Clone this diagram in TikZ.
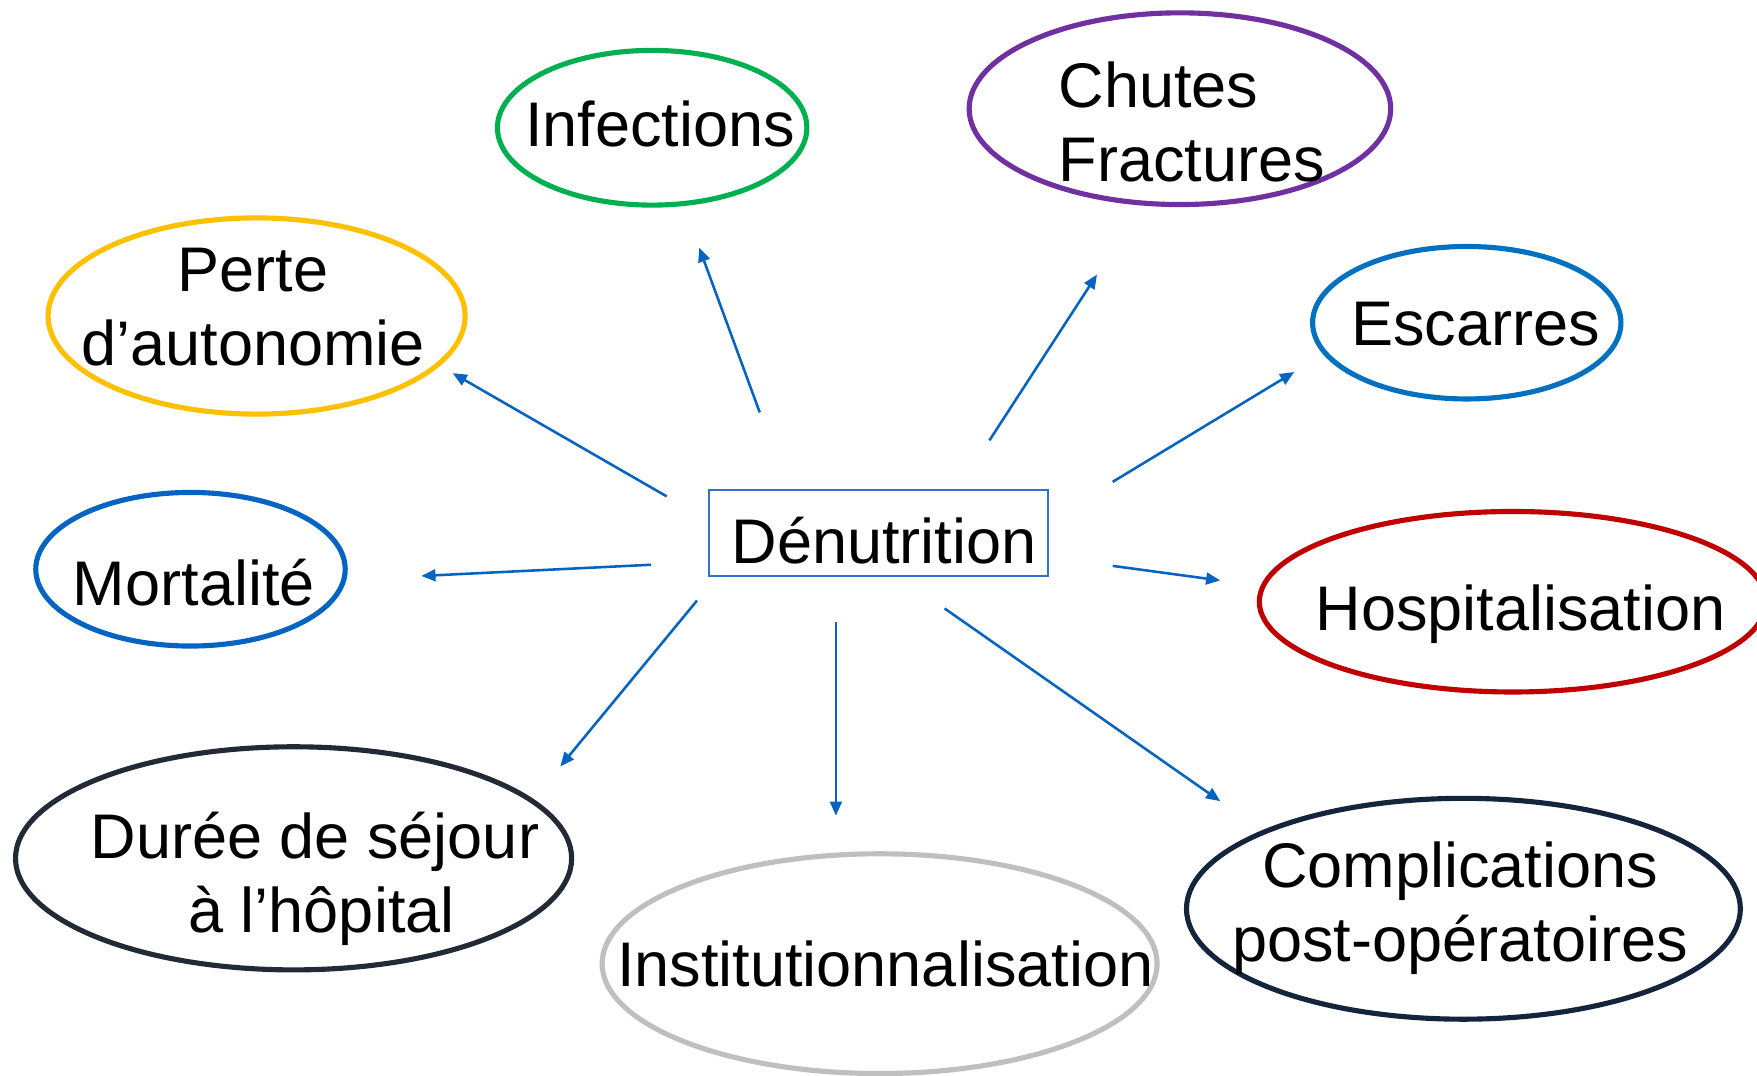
\documentclass[tikz,border=0pt]{standalone}
\usepackage{fontspec}
\setmainfont{Liberation Sans}
\usetikzlibrary{shapes.geometric,arrows.meta}
\definecolor{cgreen}{HTML}{00B050}
\definecolor{cpurple}{HTML}{7030A0}
\definecolor{cyellow}{HTML}{FFC000}
\definecolor{cblue}{HTML}{0070C0}
\definecolor{cblueb}{HTML}{0563C1}
\definecolor{cred}{HTML}{C00000}
\definecolor{cnavy}{HTML}{222A35}
\definecolor{cgray}{HTML}{BFBFBF}
\definecolor{cnavyb}{HTML}{14243C}
\definecolor{carrow}{HTML}{0563C1}
\definecolor{cbox}{HTML}{2F74C4}
\begin{document}
\begin{tikzpicture}[x=0.01cm,y=0.01cm,
  oval/.style={ellipse,draw=#1,line width=1.3pt,inner sep=0pt},
  lbl/.style={inner sep=0pt,anchor=base,font=\fontsize{16}{18.8}\selectfont,align=center},
  arr/.style={draw=carrow,line width=0.65pt,-{Triangle[length=3.6pt,width=3pt]}}]
\clip (0,0) rectangle (1568,-960);
\fill[white] (0,0) rectangle (1568,-960);
% ellipses
\node[oval=cgreen,minimum width=2.76cm,minimum height=1.38cm] (einf) at (582,-114) {};
\node[oval=cpurple,minimum width=3.76cm,minimum height=1.71cm] (echu) at (1053,-97) {};
\node[oval=cyellow,minimum width=3.72cm,minimum height=1.75cm] (eper) at (229,-282) {};
\node[oval=cblue,minimum width=2.75cm,minimum height=1.36cm] (eesc) at (1309,-288) {};
\node[oval=cblueb,minimum width=2.76cm,minimum height=1.37cm] (emor) at (170,-508) {};
\node[oval=cred,minimum width=4.52cm,minimum height=1.61cm] (ehos) at (1350,-537) {};
\node[oval=cnavy,minimum width=4.96cm,minimum height=1.99cm] (edur) at (262,-766) {};
\node[oval=cgray,minimum width=4.95cm,minimum height=1.96cm] (eins) at (785,-860) {};
\node[oval=cnavyb,minimum width=4.94cm,minimum height=1.97cm] (ecom) at (1306,-811) {};
% central box
\node[draw=cbox,line width=0.5pt,minimum width=3.02cm,minimum height=0.77cm,inner sep=0pt] (box) at (784,-475.5) {};
% labels
\node[lbl] (tden) at (789,-503) {Dénutrition};
\node[lbl] (tinf) at (589,-131) {Infections};
\node[lbl,anchor=base west,align=left] (tchu) at (944,-162) {Chutes\\Fractures};
\node[lbl] (tper) at (226,-326) {Perte\\d’autonomie};
\node[lbl] (tesc) at (1317,-308) {Escarres};
\node[lbl] (tmor) at (173,-540) {Mortalité};
\node[lbl] (thos) at (1357,-563) {Hospitalisation};
\node[lbl] (tdur) at (281,-832) {Durée de séjour\\\hspace*{3.4pt}à l’hôpital};
\node[lbl] (tins) at (790,-880) {Institutionnalisation};
\node[lbl] (tcom) at (1303,-858) {Complications\\post-opératoires};
% arrow end points
\coordinate (a1s) at (595,-443); \coordinate (a1e) at (404,-333);
\coordinate (a2s) at (678,-368); \coordinate (a2e) at (624,-221);
\coordinate (a3s) at (883,-393); \coordinate (a3e) at (979,-245);
\coordinate (a4s) at (993,-430); \coordinate (a4e) at (1155,-332);
\coordinate (a5s) at (581,-504); \coordinate (a5e) at (376,-514);
\coordinate (a6s) at (993,-505); \coordinate (a6e) at (1089,-518);
\coordinate (a7s) at (622,-536); \coordinate (a7e) at (500,-684);
\coordinate (a8s) at (746,-555); \coordinate (a8e) at (746,-728);
\coordinate (a9s) at (843,-543); \coordinate (a9e) at (1089,-715);
\draw[arr] (a1s) -- (a1e);
\draw[arr] (a2s) -- (a2e);
\draw[arr] (a3s) -- (a3e);
\draw[arr] (a4s) -- (a4e);
\draw[arr] (a5s) -- (a5e);
\draw[arr] (a6s) -- (a6e);
\draw[arr] (a7s) -- (a7e);
\draw[arr] (a8s) -- (a8e);
\draw[arr] (a9s) -- (a9e);
\end{tikzpicture}
\end{document}
